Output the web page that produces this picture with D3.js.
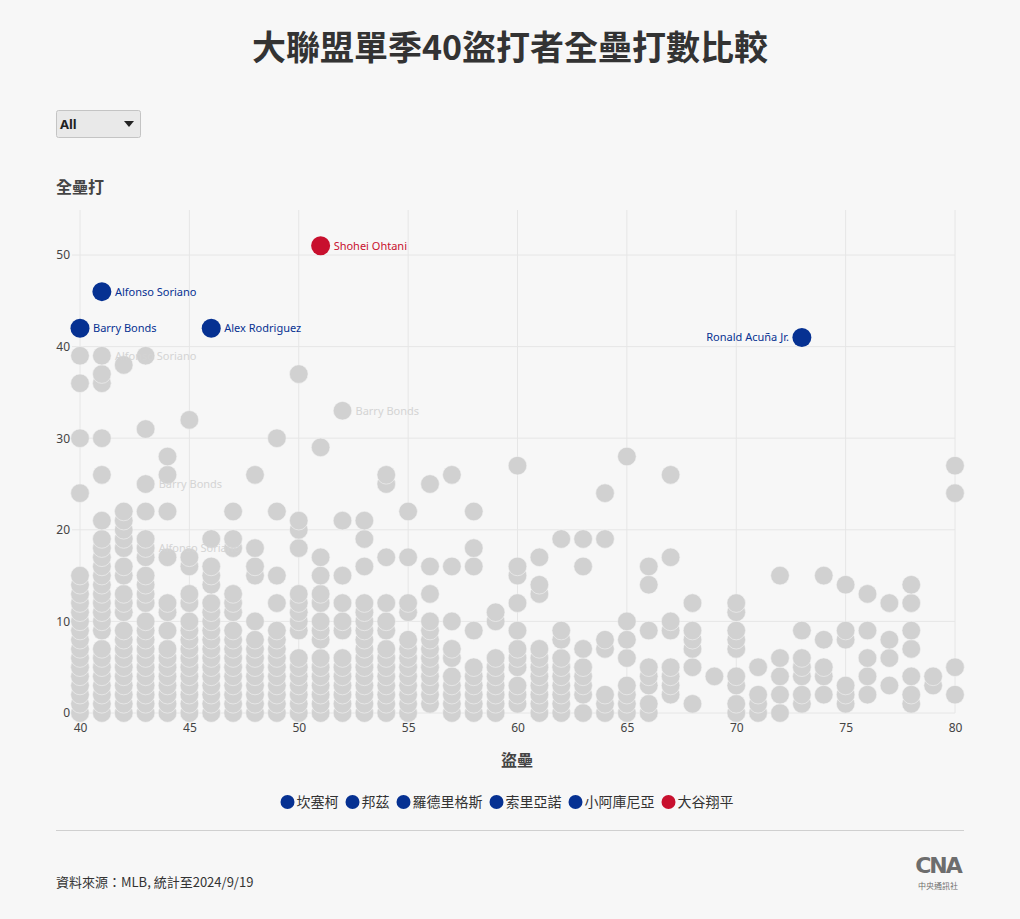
<!DOCTYPE html>
<html>
<head>
<meta charset="utf-8">
<script src="https://cdn.jsdelivr.net/npm/d3@7"></script>
<style>
  html, body { margin: 0; padding: 0; background: #f7f7f7; }
  body { width: 1020px; height: 919px; overflow: hidden; font-family: "Noto Sans", "Noto Sans CJK TC", sans-serif; }
  svg text { font-family: "Noto Sans", "Noto Sans CJK TC", sans-serif; }
</style>
</head>
<body>
<svg id="chart" width="1020" height="919"></svg>
<script>
// stolen bases (x) and the home run totals seen in that column (grey dots)
const sbValues = [40, 41, 42, 43, 44, 45, 46, 47, 48, 49, 50, 51, 52, 53, 54, 55, 56, 57, 58, 59,
  60, 61, 62, 63, 64, 65, 66, 67, 68, 69, 70, 71, 72, 73, 74, 75, 76, 77, 78, 79, 80]
const hrBySb = [
  [0, 1, 2, 3, 4, 5, 6, 7, 8, 9, 10, 11, 12, 13, 14, 15, 24, 30, 36, 39],
  [0, 1, 2, 3, 4, 5, 6, 7, 9, 10, 11, 12, 13, 14, 15, 16, 17, 18, 19, 21, 26, 30, 36, 37, 39],
  [0, 1, 2, 3, 4, 5, 6, 7, 8, 9, 11, 12, 13, 15, 16, 18, 19, 20, 21, 22, 38],
  [0, 1, 2, 3, 4, 5, 6, 7, 8, 9, 10, 12, 13, 14, 15, 17, 18, 19, 22, 25, 31, 39],
  [0, 1, 2, 3, 4, 5, 6, 7, 9, 11, 12, 17, 22, 26, 28],
  [0, 1, 2, 3, 4, 5, 6, 7, 8, 9, 10, 12, 13, 16, 17, 32],
  [0, 1, 2, 3, 4, 5, 6, 7, 8, 9, 10, 11, 12, 14, 15, 16, 19],
  [0, 1, 2, 3, 4, 5, 6, 7, 8, 9, 11, 12, 13, 18, 19, 22],
  [0, 1, 2, 3, 4, 5, 6, 7, 8, 10, 15, 16, 18, 26],
  [0, 1, 2, 3, 4, 5, 6, 7, 8, 9, 12, 15, 22, 30],
  [0, 1, 2, 3, 4, 5, 6, 9, 10, 11, 12, 13, 18, 20, 21, 37],
  [0, 1, 2, 3, 4, 5, 6, 8, 9, 10, 12, 13, 15, 17, 29],
  [0, 1, 2, 3, 4, 5, 6, 9, 10, 12, 15, 21, 33],
  [0, 1, 2, 3, 4, 5, 6, 7, 8, 9, 10, 11, 12, 16, 19, 21],
  [0, 1, 2, 3, 4, 5, 6, 7, 9, 10, 12, 17, 25, 26],
  [0, 1, 2, 3, 4, 5, 6, 7, 8, 11, 12, 17, 22],
  [1, 2, 3, 4, 5, 6, 7, 8, 9, 10, 13, 16, 25],
  [0, 1, 2, 3, 4, 6, 7, 10, 16, 26],
  [0, 1, 2, 3, 4, 5, 9, 16, 18, 22],
  [0, 1, 2, 3, 4, 5, 6, 10, 11],
  [1, 2, 3, 5, 6, 7, 9, 12, 15, 16, 27],
  [0, 1, 2, 3, 4, 5, 6, 7, 13, 14, 17],
  [0, 1, 2, 3, 4, 5, 6, 8, 9, 19],
  [0, 2, 3, 4, 5, 7, 16, 19],
  [0, 1, 2, 7, 8, 19, 24],
  [0, 1, 2, 3, 6, 8, 10, 28],
  [0, 1, 3, 4, 5, 9, 14, 16],
  [2, 3, 4, 5, 9, 10, 17, 26],
  [1, 5, 7, 8, 9, 12],
  [4],
  [0, 1, 3, 4, 7, 8, 9, 11, 12],
  [0, 1, 2, 5],
  [0, 2, 4, 6, 15],
  [1, 2, 4, 5, 6, 9],
  [2, 4, 5, 8, 15],
  [1, 2, 3, 8, 9, 14],
  [2, 4, 6, 9, 13],
  [3, 6, 8, 12],
  [1, 2, 4, 7, 9, 12, 14],
  [3, 4],
  [2, 5, 24, 27]
]

// faint labels on some grey seasons
const greyLabelNames = ['Alfonso Soriano', 'Barry Bonds', 'Barry Bonds', 'Alfonso Soriano']
const greyLabelSb = [41, 52, 43, 43]
const greyLabelHr = [39, 33, 25, 18]

// highlighted 40-40 seasons
const hlNames = ['Barry Bonds', 'Alfonso Soriano', 'Alex Rodriguez', 'Shohei Ohtani', 'Ronald Acuña Jr.']
const hlSb = [40, 41, 46, 51, 73]
const hlHr = [42, 46, 42, 51, 41]
const hlGroup = ['blue', 'blue', 'blue', 'red', 'blue']
const hlLabelSide = ['right', 'right', 'right', 'right', 'left']

const legendNames = ['坎塞柯', '邦茲', '羅德里格斯', '索里亞諾', '小阿庫尼亞', '大谷翔平']
const legendGroup = ['blue', 'blue', 'blue', 'blue', 'blue', 'red']

const xTicks = [40, 45, 50, 55, 60, 65, 70, 75, 80]
const yTicks = [0, 10, 20, 30, 40, 50]

const colors = {blue: '#063192', red: '#c8102e', grey: '#d1d1d1'}

const svg = d3.select('#chart')

const x = d3.scaleLinear().domain([40, 80]).range([80, 955])
const y = d3.scaleLinear().domain([0, 50]).range([713, 255])
const plotTop = 210

// title
svg.append('text')
  .attr('x', 510).attr('y', 60)
  .attr('text-anchor', 'middle')
  .attr('font-size', 34).attr('font-weight', 700)
  .attr('fill', '#333')
  .style('font-family', '"Noto Sans CJK TC", sans-serif')
  .text('大聯盟單季40盜打者全壘打數比較')

// dropdown
const dd = svg.append('g').attr('transform', 'translate(56, 110)')
dd.append('rect')
  .attr('x', 0.5).attr('y', 0.5).attr('width', 84).attr('height', 27).attr('rx', 2)
  .attr('fill', '#e9e9e9').attr('stroke', '#c4c4c4')
dd.append('text')
  .attr('x', 4).attr('y', 19)
  .attr('font-size', 13).attr('font-weight', 700).attr('fill', '#222')
  .text('All')
dd.append('path')
  .attr('d', 'M68,11 L78,11 L73,17 Z')
  .attr('fill', '#222')

// y axis title
svg.append('text')
  .attr('x', 56).attr('y', 193)
  .attr('font-size', 16).attr('font-weight', 700).attr('fill', '#444')
  .style('font-family', '"Noto Sans CJK TC", sans-serif')
  .text('全壘打')

// grid
const grid = svg.append('g').attr('class', 'grid')
grid.selectAll('line.v').data(xTicks).join('line')
  .attr('class', 'v')
  .attr('x1', d => x(d)).attr('x2', d => x(d))
  .attr('y1', plotTop).attr('y2', y(0))
  .attr('stroke', '#e6e6e6').attr('stroke-width', 1)
grid.selectAll('line.h').data(yTicks).join('line')
  .attr('class', 'h')
  .attr('x1', 72).attr('x2', 955)
  .attr('y1', d => y(d)).attr('y2', d => y(d))
  .attr('stroke', '#e6e6e6').attr('stroke-width', 1)

// axes (labels only)
const xAxis = d3.axisBottom(x).tickValues(xTicks).tickSize(0).tickPadding(10)
svg.append('g')
  .attr('transform', `translate(0, ${y(0)})`)
  .call(xAxis)
  .call(g => g.select('.domain').remove())
  .selectAll('text')
    .attr('font-size', 12).attr('fill', '#444')
    .style('font-family', '"Noto Sans", sans-serif')

const yAxis = d3.axisLeft(y).tickValues(yTicks).tickSize(0).tickPadding(10)
svg.append('g')
  .attr('transform', 'translate(80, 0)')
  .call(yAxis)
  .call(g => g.select('.domain').remove())
  .selectAll('text')
    .attr('font-size', 12).attr('fill', '#444')
    .style('font-family', '"Noto Sans", sans-serif')

// x axis title
svg.append('text')
  .attr('x', 517).attr('y', 766)
  .attr('text-anchor', 'middle')
  .attr('font-size', 16).attr('font-weight', 700).attr('fill', '#444')
  .style('font-family', '"Noto Sans CJK TC", sans-serif')
  .text('盜壘')

// grey dots
const greyPoints = sbValues.flatMap((sb, i) => hrBySb[i].map(hr => ({sb, hr})))
svg.append('g').attr('class', 'grey')
  .selectAll('circle').data(greyPoints).join('circle')
  .attr('cx', d => x(d.sb))
  .attr('cy', d => y(d.hr))
  .attr('r', 9.3)
  .attr('fill', colors.grey)
  .attr('stroke', '#f4f4f4')
  .attr('stroke-width', 0.6)

// faint labels
const greyLabels = greyLabelNames.map((name, i) => ({name, sb: greyLabelSb[i], hr: greyLabelHr[i]}))
svg.append('g').attr('class', 'grey-labels')
  .selectAll('text').data(greyLabels).join('text')
  .attr('x', d => x(d.sb) + 13)
  .attr('y', d => y(d.hr) + 4)
  .attr('font-size', 11)
  .attr('fill', '#d4d4d4')
  .text(d => d.name)

// highlighted seasons
const hl = hlNames.map((name, i) => ({name, sb: hlSb[i], hr: hlHr[i], group: hlGroup[i], side: hlLabelSide[i]}))
const hlG = svg.append('g').attr('class', 'highlight')
hlG.selectAll('circle').data(hl).join('circle')
  .attr('cx', d => x(d.sb))
  .attr('cy', d => y(d.hr))
  .attr('r', 9.5)
  .attr('fill', d => colors[d.group])
hlG.selectAll('text').data(hl).join('text')
  .attr('x', d => d.side === 'left' ? x(d.sb) - 13 : x(d.sb) + 13)
  .attr('y', d => y(d.hr) + 4)
  .attr('text-anchor', d => d.side === 'left' ? 'end' : 'start')
  .attr('font-size', 11)
  .attr('fill', d => colors[d.group])
  .text(d => d.name)

// legend
const legend = svg.append('g').attr('class', 'legend')
const items = legend.selectAll('g').data(legendNames.map((name, i) => ({name, group: legendGroup[i]})))
  .join('g')
items.append('circle').attr('r', 7).attr('cx', 7).attr('cy', 0)
  .attr('fill', d => colors[d.group])
items.append('text')
  .attr('x', 16).attr('y', 5)
  .attr('font-size', 14).attr('fill', '#333')
  .style('font-family', '"Noto Sans CJK TC", sans-serif')
  .text(d => d.name)
let cursor = 0
items.each(function () {
  const w = 16 + this.querySelector('text').getComputedTextLength()
  d3.select(this).attr('transform', `translate(${cursor}, 0)`)
  cursor += w + 7
})
legend.attr('transform', `translate(${507 - (cursor - 7) / 2}, 802)`)

// separator
svg.append('line')
  .attr('x1', 56).attr('x2', 964).attr('y1', 830.5).attr('y2', 830.5)
  .attr('stroke', '#d0d0d0')

// source
svg.append('text')
  .attr('x', 56).attr('y', 887)
  .attr('font-size', 13).attr('fill', '#333')
  .style('font-family', '"Noto Sans CJK TC", sans-serif')
  .text('資料來源：MLB, 統計至2024/9/19')

// CNA logo (rough)
const logo = svg.append('g').attr('transform', 'translate(912, 852)')
logo.append('text')
  .attr('x', 26).attr('y', 21)
  .attr('text-anchor', 'middle')
  .attr('font-size', 22).attr('font-weight', 900)
  .attr('letter-spacing', -2)
  .attr('fill', '#6d6d6d')
  .style('font-family', '"DejaVu Sans", sans-serif')
  .text('CNA')
logo.append('text')
  .attr('x', 26).attr('y', 37)
  .attr('text-anchor', 'middle')
  .attr('font-size', 8).attr('fill', '#6d6d6d')
  .style('font-family', '"Noto Sans CJK TC", sans-serif')
  .text('中央通訊社')
</script>
</body>
</html>
